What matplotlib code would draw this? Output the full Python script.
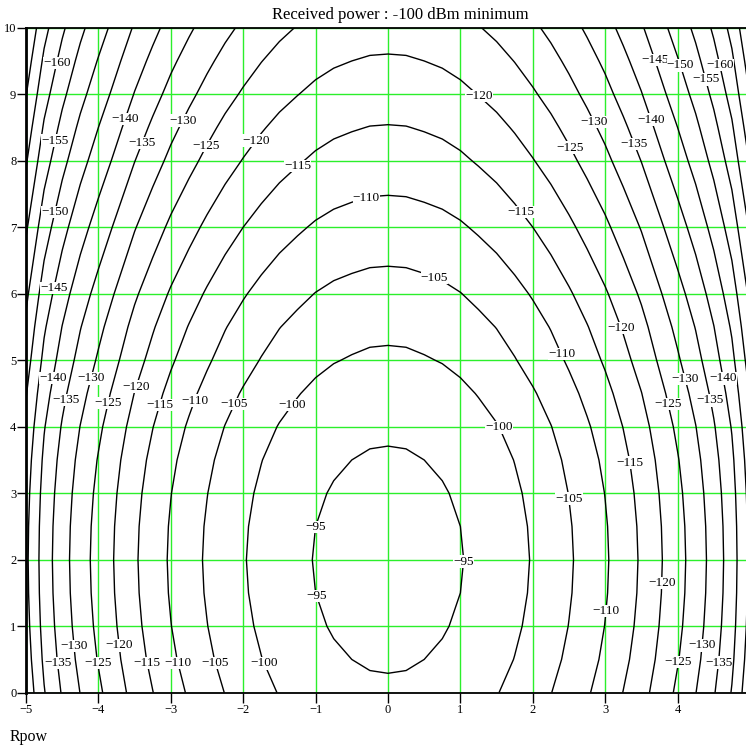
import numpy as np
import matplotlib.pyplot as plt

plt.rcParams['font.family'] = 'Liberation Serif'
plt.rcParams['axes.unicode_minus'] = True

# Received power (dBm) along the row through the beam centre (y = 2), for x >= 0
x_half = np.array([0.0, 0.25, 0.5, 0.75, 1.0, 1.25, 1.5, 1.75, 2.0, 2.25, 2.5,
                   2.75, 3.0, 3.25, 3.5, 3.75, 4.0, 4.25, 4.5, 4.75, 5.0])
p_row_half = np.array([-93.0, -93.1, -93.5, -94.0, -94.8, -95.9, -97.1, -98.6,
                       -100.3, -102.2, -104.4, -106.8, -109.4, -112.4, -115.6,
                       -119.4, -123.2, -127.2, -131.9, -137.6, -146.0])

# Received power (dBm) along the centre column (x = 0)
y_vals = np.array([0.0, 0.5, 1.0, 1.5, 2.0, 2.5, 3.0, 3.5, 4.0, 4.5, 5.0,
                   5.5, 6.0, 6.5, 7.0, 7.5, 8.0, 8.5, 9.0, 9.5, 10.0])
p_col = np.array([-95.7, -94.5, -93.7, -93.2, -93.0, -93.2, -93.7, -94.5,
                  -95.7, -97.3, -99.2, -101.0, -103.1, -105.4, -107.7, -110.1,
                  -112.5, -114.8, -117.2, -119.5, -121.9])

levels = [-170, -165, -160, -155, -150, -145, -140, -135, -130, -125,
          -120, -115, -110, -105, -100, -95]

# pattern is symmetric about x = 0
x_vals = np.concatenate([-x_half[:0:-1], x_half])
p_row = np.concatenate([p_row_half[:0:-1], p_row_half])
p_peak = p_row_half[0]
Rpow = p_col[:, None] + p_row[None, :] - p_peak

# where the level labels sit
label_pos = {
    -95: [(1.06, 1.97), (-1.01, 2.49), (-1.01, 1.44)],
    -100: [(-1.30, 4.30), (1.52, 3.98), (-1.69, 0.45)],
    -105: [(-2.09, 4.32), (0.64, 6.24), (2.51, 2.92), (-2.36, 0.45)],
    -110: [(-2.64, 4.38), (-0.29, 7.41), (2.40, 5.09), (3.04, 1.23), (-2.89, 0.45)],
    -115: [(-3.15, 4.32), (-1.24, 7.91), (1.85, 7.23), (3.34, 3.46), (-3.31, 0.45)],
    -120: [(-3.47, 4.60), (-1.81, 8.29), (1.27, 8.98), (3.23, 5.49), (3.83, 1.65),
           (-3.72, 0.71)],
    -125: [(-3.87, 4.36), (-2.50, 8.21), (2.54, 8.21), (3.92, 4.35), (-4.02, 0.45),
           (4.08, 0.45)],
    -130: [(-4.12, 4.73), (-2.83, 8.60), (2.89, 8.60), (4.17, 4.73), (-4.31, 0.71),
           (4.35, 0.71)],
    -135: [(-4.42, 4.40), (-3.41, 8.27), (3.45, 8.27), (4.48, 4.40), (-4.55, 0.45),
           (4.59, 0.45)],
    -140: [(-4.63, 4.73), (-3.66, 8.64), (3.72, 8.65), (4.65, 4.73)],
    -145: [(-4.63, 6.09), (3.74, 9.53)],
    -150: [(-4.63, 7.23), (4.15, 9.47)],
    -155: [(-4.63, 8.31), (4.45, 9.24)],
    -160: [(-4.60, 9.48), (4.65, 9.46)],
}

SX, SY = 72.4, 66.5  # pixels per data unit


def nearest_on_contour(segs, px, py):
    p = np.array([px * SX, py * SY])
    best, best_d = (px, py), np.inf
    for s in segs:
        if len(s) < 2:
            continue
        a = s[:-1] * [SX, SY]
        b = s[1:] * [SX, SY]
        ab = b - a
        t = ((p - a) * ab).sum(1) / np.maximum((ab * ab).sum(1), 1e-12)
        t = np.clip(t, 0, 1)
        q = a + t[:, None] * ab
        d = ((q - p) ** 2).sum(1)
        k = np.argmin(d)
        if d[k] < best_d:
            best_d = d[k]
            best = (q[k, 0] / SX, q[k, 1] / SY)
    return best


fig = plt.figure(figsize=(7.46, 7.49), dpi=100)
ax = fig.add_axes([26 / 746, 56.3 / 749, 720 / 746, 665 / 749])

ax.set_xlim(-5, 4.945)
ax.set_ylim(0, 10)
ax.set_xticks(range(-5, 5))
ax.set_yticks(range(0, 11))
ax.grid(True, color='#2bef2b', lw=1.0)
ax.set_axisbelow(True)

cs = ax.contour(x_vals, y_vals, Rpow, levels=levels, colors='black',
                linewidths=1.0, linestyles='solid')

# horizontal labels sitting on their own contour
for lev, pts in label_pos.items():
    i = list(cs.levels).index(lev)
    for px, py in pts:
        lx, ly = nearest_on_contour(cs.allsegs[i], px, py)
        ax.text(lx, ly, '\u2212%d' % abs(lev), ha='center', va='center',
                fontsize=9.5, zorder=4,
                bbox=dict(facecolor='white', edgecolor='none', pad=0.1))

ax.spines['right'].set_visible(False)
ax.spines['left'].set_linewidth(2.0)
ax.spines['bottom'].set_linewidth(1.3)
ax.spines['top'].set_linewidth(1.3)
ax.tick_params(axis='x', direction='out', length=7, width=1, pad=1, labelsize=9)
ax.tick_params(axis='y', direction='out', length=6.5, width=1, pad=0.5, labelsize=9)

fig.text(400 / 746, 1 - 19.3 / 749, 'Received power : -100 dBm minimum',
         ha='center', va='baseline', fontsize=12)
fig.text(10 / 746, 1 - 741 / 749, 'Rpow', ha='left', va='baseline', fontsize=11.5)

fig.savefig('out.png', dpi=100)
